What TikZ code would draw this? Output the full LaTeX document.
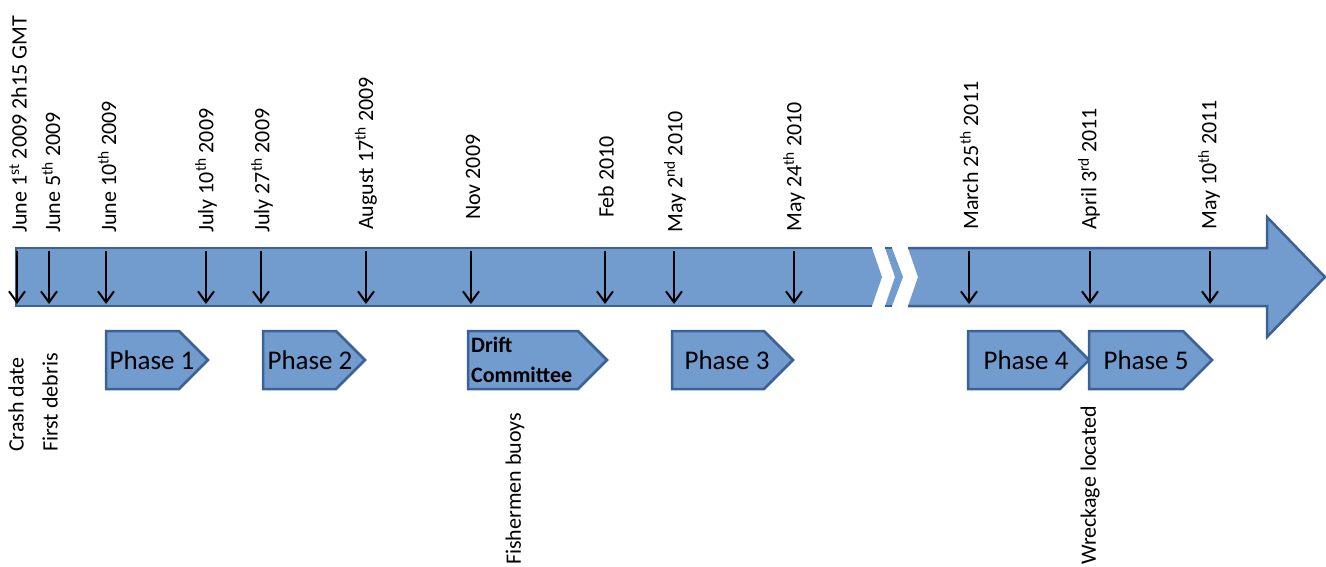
\documentclass[tikz,border=0pt]{standalone}
\usepackage{fontspec}
\setmainfont{Carlito}
\usetikzlibrary{arrows.meta}
\definecolor{bandfill}{RGB}{114,155,206}
\definecolor{bandline}{RGB}{60,97,150}
\begin{document}
\begin{tikzpicture}[x=1pt,y=-1pt,
  datelbl/.style={rotate=90, anchor=west, inner sep=0pt, font=\fontsize{22}{24}\selectfont},
  eventlbl/.style={rotate=90, anchor=west, inner sep=0pt, font=\fontsize{22}{24}\selectfont},
  phasebox/.style={fill=bandfill, draw=bandline, line width=2.5pt, line join=miter},
  phasetxt/.style={inner sep=0pt, font=\fontsize{27}{30}\selectfont, text=black},
  tickarrow/.style={-{Straight Barb[length=11pt,width=16pt]}, line width=2pt},
  bandborder/.style={draw=bandline, line width=2.5pt, line join=miter}]
\useasboundingbox (0,0) rectangle (1326,566);
% band
\fill[bandfill] (16,248) -- (872,248) -- (882,277) -- (872,306) -- (16,306) -- cycle;
\fill[bandfill] (885,248) -- (892,248) -- (903,277) -- (892,306) -- (885,306) -- (895,277) -- cycle;
\fill[bandfill] (908,248) -- (1267,248) -- (1267,217) -- (1325,277) -- (1267,337) -- (1267,306) -- (908,306) -- (918,277) -- cycle;
\draw[bandborder] (872,248) -- (16,248) -- (16,306) -- (872,306);
\draw[bandborder] (885,248) -- (892,248);
\draw[bandborder] (885,306) -- (892,306);
\draw[bandborder] (908,248) -- (1267,248) -- (1267,217) -- (1325,277) -- (1267,337) -- (1267,306) -- (908,306);
% ticks
\foreach \x/\n in {17/a,49/b,106/c,206/d,261/e,366/f,471/g,605/h,674/i,794/j,969/k,1090/l,1210/m}{
  \coordinate (top\n) at (\x,251);
  \coordinate (bot\n) at (\x,304);
  \draw[tickarrow] (top\n) -- (bot\n);
}
% date labels
\node[datelbl] (da) at (18,233) {June 1\textsuperscript{st} 2009 2h15 GMT};
\node[datelbl] (db) at (51,233) {June 5\textsuperscript{th} 2009};
\node[datelbl] (dc) at (107,233) {June 10\textsuperscript{th} 2009};
\node[datelbl] (dd) at (206,233) {July 10\textsuperscript{th} 2009};
\node[datelbl] (de) at (262,233) {July 27\textsuperscript{th} 2009};
\node[datelbl] (df) at (366,230) {August 17\textsuperscript{th} 2009};
\node[datelbl] (dg) at (473,220) {Nov 2009};
\node[datelbl] (dh) at (606,218) {Feb 2010};
\node[datelbl] (di) at (675,233) {May 2\textsuperscript{nd} 2010};
\node[datelbl] (dj) at (794,232) {May 24\textsuperscript{th} 2010};
\node[datelbl] (dk) at (969,230) {March 25\textsuperscript{th} 2011};
\node[datelbl] (dl) at (1089,230) {April 3\textsuperscript{rd} 2011};
\node[datelbl] (dm) at (1209,230) {May 10\textsuperscript{th} 2011};
% phases
\foreach \l/\r in {106/208,263/365,468/607,672/793,968/1089,1089/1212}{
  \draw[phasebox] (\l,331) -- (\r-29,331) -- (\r,360) -- (\r-29,389) -- (\l,389) -- cycle;
}
\node[phasetxt] (p1) at (152,360) {Phase 1};
\node[phasetxt] (p2) at (310,360) {Phase 2};
\node[inner sep=0pt, anchor=north west, align=left, font=\bfseries\fontsize{22}{30}\selectfont, text=black] (drift) at (471,337) {Drift\\Committee};
\node[phasetxt] (p3) at (727,360) {Phase 3};
\node[phasetxt] (p4) at (1026,360) {Phase 4};
\node[phasetxt] (p5) at (1146,360) {Phase 5};
% events
\node[eventlbl] (crash) at (16,452) {Crash date};
\node[eventlbl] (debris) at (50,452) {First debris};
\node[eventlbl] (buoys) at (515,565) {Fishermen buoys};
\node[eventlbl] (wreck) at (1090,565) {Wreckage located};
\end{tikzpicture}
\end{document}
